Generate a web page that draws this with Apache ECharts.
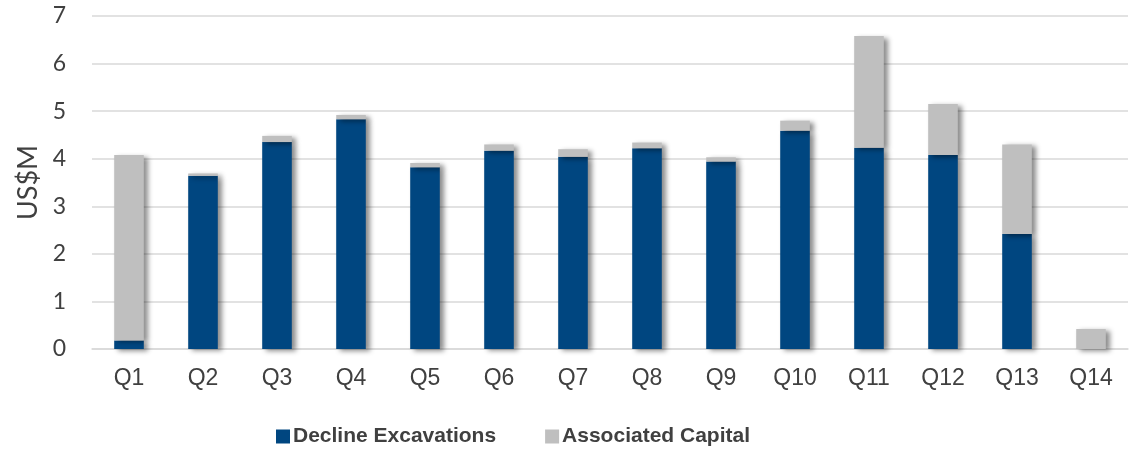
<!DOCTYPE html>
<html>
<head>
<meta charset="utf-8">
<style>
  html, body { margin: 0; padding: 0; background: #ffffff; }
  #chart { width: 1138px; height: 452px; }
</style>
<script src="https://cdn.jsdelivr.net/npm/echarts@6/dist/echarts.min.js"></script>
</head>
<body>
<div id="chart"></div>
<script>
// Quarterly spend, US$M
const quarters = ['Q1', 'Q2', 'Q3', 'Q4', 'Q5', 'Q6', 'Q7', 'Q8', 'Q9', 'Q10', 'Q11', 'Q12', 'Q13', 'Q14'];
const declineExcavations = [0.18, 3.64, 4.35, 4.83, 3.82, 4.17, 4.04, 4.22, 3.94, 4.59, 4.23, 4.08, 2.42, 0];
const associatedCapital  = [3.90, 0.05, 0.13, 0.09, 0.09, 0.13, 0.16, 0.12, 0.09, 0.21, 2.35, 1.07, 1.88, 0.42];
const yTicks = [0, 1, 2, 3, 4, 5, 6, 7];

const textColor = '#404040';
const gridColor = '#d9d9d9';
const arial = '"Liberation Sans", Arial, sans-serif';
const calibriLike = 'Lato, "Liberation Sans", sans-serif';

const barShadow = {
  shadowColor: 'rgba(0,0,0,0.45)',
  shadowBlur: 5,
  shadowOffsetX: 4,
  shadowOffsetY: 2
};

const chart = echarts.init(document.getElementById('chart'), null, { renderer: 'canvas' });

chart.setOption({
  animation: false,
  grid: { left: 92, right: 10, top: 16, bottom: 103, containLabel: false },
  legend: {
    bottom: 0,
    left: 271,
    itemWidth: 14,
    itemHeight: 14,
    itemGap: 49,
    icon: 'rect',
    textStyle: {
      color: textColor,
      fontFamily: arial,
      fontWeight: 'bold',
      fontSize: 21,
      padding: [0, 0, 0, -2]
    },
    data: ['Decline Excavations', 'Associated Capital']
  },
  xAxis: {
    type: 'category',
    data: quarters,
    axisLine: { show: true, lineStyle: { color: gridColor, width: 1.5 } },
    axisTick: { show: false },
    axisLabel: {
      color: textColor,
      fontFamily: arial,
      fontSize: 23,
      margin: 18
    }
  },
  yAxis: {
    type: 'value',
    min: yTicks[0],
    max: yTicks[yTicks.length - 1],
    interval: 1,
    name: 'US$M',
    nameLocation: 'middle',
    nameGap: 46,
    nameRotate: 90,
    nameTextStyle: {
      color: textColor,
      fontFamily: calibriLike,
      fontSize: 27
    },
    axisLine: { show: false },
    axisTick: { show: false },
    splitLine: { lineStyle: { color: gridColor, width: 1.5 } },
    axisLabel: {
      color: textColor,
      fontFamily: calibriLike,
      fontSize: 23,
      margin: 26
    }
  },
  series: [
    {
      name: 'Decline Excavations',
      type: 'bar',
      stack: 'total',
      barWidth: '40%',
      data: declineExcavations,
      itemStyle: Object.assign({ color: '#004680' }, barShadow)
    },
    {
      name: 'Associated Capital',
      type: 'bar',
      stack: 'total',
      barWidth: '40%',
      data: associatedCapital,
      itemStyle: Object.assign({ color: '#bfbfbf' }, barShadow)
    }
  ]
});
</script>
</body>
</html>
